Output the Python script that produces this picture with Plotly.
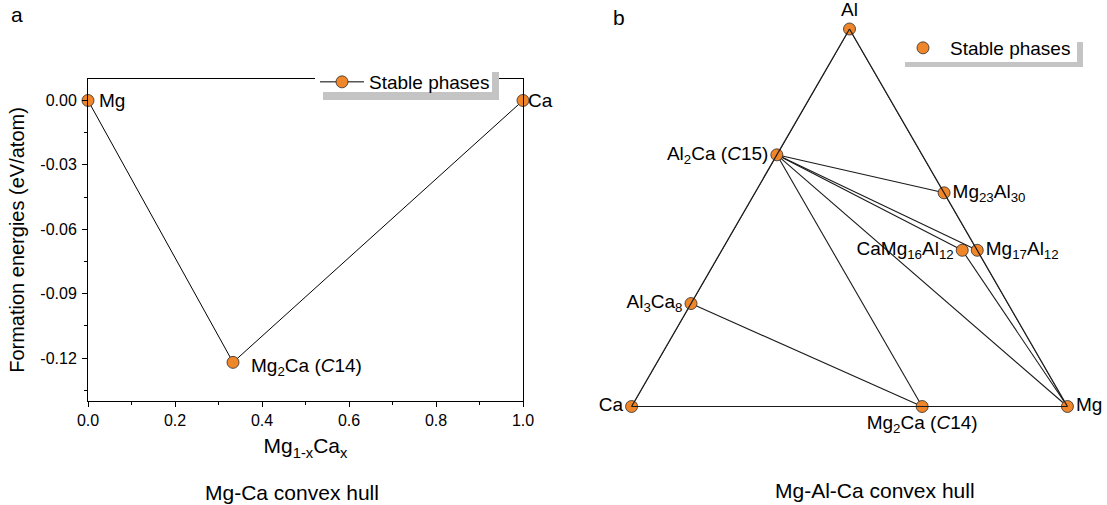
import plotly.graph_objects as go

# ---------------- Panel a: Mg-Ca convex hull ----------------
mgca_x = [0.0, 1 / 3, 1.0]
mgca_e = [0.0, -0.122, 0.0]
mgca_labels = ["Mg", "Mg<sub>2</sub>Ca (<i>C</i>14)", "Ca"]

xtick_vals = [0.0, 0.2, 0.4, 0.6, 0.8, 1.0]
xtick_text = ["0.0", "0.2", "0.4", "0.6", "0.8", "1.0"]
xminor_vals = [0.1, 0.3, 0.5, 0.7, 0.9]
ytick_vals = [0.0, -0.03, -0.06, -0.09, -0.12]
ytick_text = ["0.00", "-0.03", "-0.06", "-0.09", "-0.12"]
yminor_vals = [-0.015, -0.045, -0.075, -0.105, -0.135]

# ---------------- Panel b: Mg-Al-Ca ternary hull ----------------
phase_names = ["Al", "Ca", "Mg", "Al2Ca", "Al3Ca8", "Mg2Ca",
               "Mg23Al30", "Mg17Al12", "CaMg16Al12"]
phase_labels = ["Al", "Ca", "Mg", "Al<sub>2</sub>Ca (<i>C</i>15)",
                "Al<sub>3</sub>Ca<sub>8</sub>", "Mg<sub>2</sub>Ca (<i>C</i>14)",
                "Mg<sub>23</sub>Al<sub>30</sub>", "Mg<sub>17</sub>Al<sub>12</sub>",
                "CaMg<sub>16</sub>Al<sub>12</sub>"]
phase_al = [1, 0, 0, 2, 3, 0, 30, 12, 12]
phase_ca = [0, 1, 0, 1, 8, 1, 0, 0, 1]
phase_mg = [0, 0, 1, 0, 0, 2, 23, 17, 16]
label_pos = ["top center", "middle left", "middle right", "middle left",
             "middle left", "bottom center", "middle right", "middle right",
             "middle left"]
tie_lines = [("Al", "Ca"), ("Al", "Mg"), ("Ca", "Mg"),
             ("Al2Ca", "Mg23Al30"), ("Al2Ca", "Mg17Al12"),
             ("Al2Ca", "CaMg16Al12"), ("Al2Ca", "Mg"), ("Al2Ca", "Mg2Ca"),
             ("Al3Ca8", "Mg2Ca"), ("CaMg16Al12", "Mg")]

# ---------------- styling ----------------
FONT = "Liberation Sans, Arial, sans-serif"
ORANGE = "#F0862A"
W, H = 1107, 505


def px(x):
    """page pixel x -> paper fraction"""
    return x / W


def py(y):
    """page pixel y (from top) -> paper fraction"""
    return (H - y) / H


marker_style = dict(size=12, color=ORANGE, line=dict(color="#2b2b2b", width=0.8))

fig = go.Figure()

# Panel a trace
fig.add_trace(go.Scatter(
    x=mgca_x, y=mgca_e, mode="lines+markers", name="Stable phases",
    line=dict(color="black", width=1), marker=marker_style,
    cliponaxis=False, legend="legend", hoverinfo="x+y"))

# Panel b tie lines
idx = {n: i for i, n in enumerate(phase_names)}
for p, q in tie_lines:
    i, j = idx[p], idx[q]
    fig.add_trace(go.Scatterternary(
        a=[phase_al[i], phase_al[j]], b=[phase_ca[i], phase_ca[j]],
        c=[phase_mg[i], phase_mg[j]], mode="lines",
        line=dict(color="#1a1a1a", width=1.1), showlegend=False,
        cliponaxis=False, hoverinfo="skip", subplot="ternary"))

# Panel b phases
fig.add_trace(go.Scatterternary(
    a=phase_al, b=phase_ca, c=phase_mg, mode="markers", name="Stable phases",
    marker=marker_style, cliponaxis=False, legend="legend2",
    text=phase_names, hoverinfo="text", subplot="ternary"))

# Panel b labels
fig.add_trace(go.Scatterternary(
    a=phase_al, b=phase_ca, c=phase_mg, mode="markers+text",
    text=phase_labels, textposition=label_pos,
    textfont=dict(size=19, color="black", family=FONT),
    marker=dict(size=12, color="rgba(0,0,0,0)"), showlegend=False,
    cliponaxis=False, hoverinfo="skip", subplot="ternary"))

annotations = []
# Panel a point labels
shifts = [(9, 0), (16, -5), (3, 0)]
for xv, yv, lab, (dx, dy) in zip(mgca_x, mgca_e, mgca_labels, shifts):
    annotations.append(dict(x=xv, y=yv, xref="x", yref="y", text=lab,
                            showarrow=False, xanchor="left", yanchor="middle",
                            xshift=dx, yshift=dy,
                            font=dict(size=19, color="black", family=FONT)))
# Panel letters and titles
annotations += [
    dict(x=px(17), y=py(14), xref="paper", yref="paper", text="a", showarrow=False,
         xanchor="center", yanchor="middle", font=dict(size=21, color="black")),
    dict(x=px(619), y=py(17), xref="paper", yref="paper", text="b", showarrow=False,
         xanchor="center", yanchor="middle", font=dict(size=21, color="black")),
    dict(x=px(292), y=py(492), xref="paper", yref="paper", text="Mg-Ca convex hull",
         showarrow=False, xanchor="center", yanchor="middle", font=dict(size=21, color="black")),
    dict(x=px(875), y=py(490), xref="paper", yref="paper", text="Mg-Al-Ca convex hull",
         showarrow=False, xanchor="center", yanchor="middle", font=dict(size=21, color="black")),
]

shapes = [
    # legend a shadow + box
    dict(type="rect", xref="paper", yref="paper", x0=px(323), x1=px(499), y0=py(100), y1=py(72),
         fillcolor="#c4c4c4", line=dict(width=0), layer="above"),
    dict(type="rect", xref="paper", yref="paper", x0=px(315), x1=px(492), y0=py(92), y1=py(64),
         fillcolor="white", line=dict(width=0), layer="above"),
    # legend b shadow + box
    dict(type="rect", xref="paper", yref="paper", x0=px(905), x1=px(1083), y0=py(67), y1=py(42),
         fillcolor="#c4c4c4", line=dict(width=0), layer="above"),
    dict(type="rect", xref="paper", yref="paper", x0=px(898), x1=px(1077), y0=py(62), y1=py(30),
         fillcolor="white", line=dict(width=0), layer="above"),
]

tern_axis = dict(showgrid=False, showticklabels=False, ticks="", showline=True,
                 linecolor="#1a1a1a", linewidth=1.2, title=dict(text=""))

fig.update_layout(
    template=None,
    width=W, height=H, margin=dict(l=0, r=0, t=0, b=0, autoexpand=False),
    paper_bgcolor="white", plot_bgcolor="white",
    font=dict(family=FONT, color="black", size=16),
    xaxis=dict(domain=[px(88), px(523)], range=[0, 1], showline=True, mirror=True,
               automargin=False,
               linecolor="black", linewidth=1, ticks="outside", ticklen=5, tickcolor="black",
               tickmode="array", tickvals=xtick_vals, ticktext=xtick_text,
               minor=dict(tickmode="array", tickvals=xminor_vals, ticks="outside",
                          ticklen=3, tickcolor="black"),
               showgrid=False, zeroline=False, tickfont=dict(size=16),
               title=dict(text="Mg<sub>1-x</sub>Ca<sub>x</sub>", font=dict(size=21), standoff=10)),
    yaxis=dict(domain=[py(401), py(79)], range=[-0.14, 0.01], showline=True, mirror=True,
               automargin=False,
               linecolor="black", linewidth=1, ticks="outside", ticklen=5, tickcolor="black",
               tickmode="array", tickvals=ytick_vals, ticktext=ytick_text,
               minor=dict(tickmode="array", tickvals=yminor_vals, ticks="outside",
                          ticklen=3, tickcolor="black"),
               showgrid=False, zeroline=False, tickfont=dict(size=16), ticklabelstandoff=2,
               title=dict(text="Formation energies (eV/atom)", font=dict(size=20), standoff=10)),
    ternary=dict(domain=dict(x=[px(631.5), px(1067.5)], y=[py(406.5), py(29)]),
                 bgcolor="rgba(0,0,0,0)", sum=1,
                 aaxis=tern_axis, baxis=tern_axis, caxis=tern_axis),
    legend=dict(x=px(315), y=py(82), xanchor="left", yanchor="middle",
                bgcolor="rgba(0,0,0,0)", borderwidth=0, itemwidth=44,
                font=dict(size=19, color="black")),
    legend2=dict(x=px(896), y=py(48), xanchor="left", yanchor="middle",
                 bgcolor="rgba(0,0,0,0)", borderwidth=0, itemwidth=44,
                 font=dict(size=19, color="black")),
    annotations=annotations, shapes=shapes, showlegend=True,
)

fig.write_html("out.html", config={"displayModeBar": False},
               post_script="document.body.style.margin='0';document.body.style.overflow='hidden';")
